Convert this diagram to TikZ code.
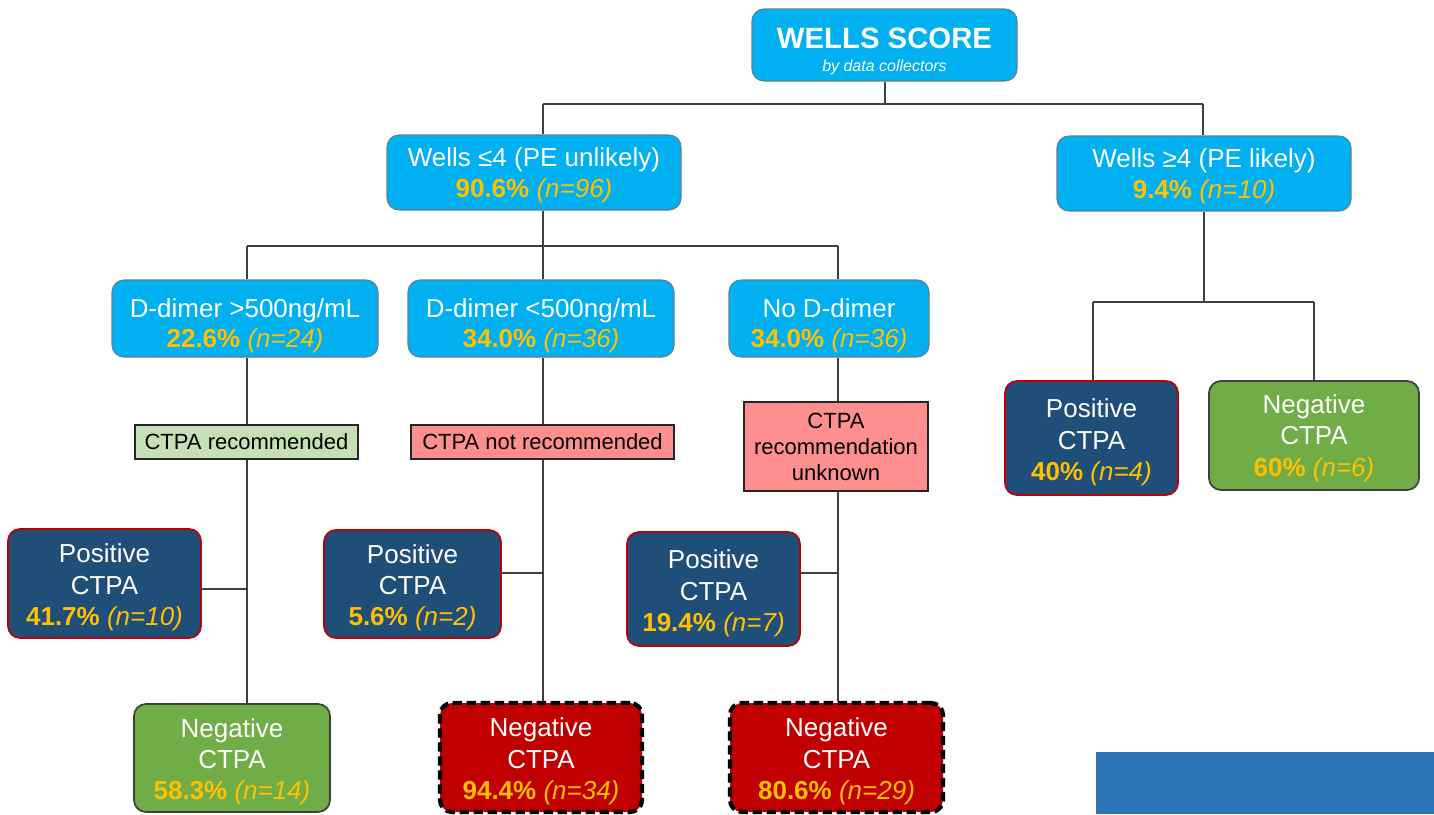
\documentclass[tikz,border=0pt]{standalone}
\usepackage{fontspec}
\setmainfont{Liberation Sans}
\definecolor{cyanA}{HTML}{00B0F0}
\definecolor{blueBorder}{HTML}{5A7F99}
\definecolor{gold}{HTML}{FFC000}
\definecolor{navy}{HTML}{1F4E79}
\definecolor{redB}{HTML}{C00000}
\definecolor{greenA}{HTML}{70AD47}
\definecolor{darkB}{HTML}{404040}
\definecolor{redA}{HTML}{C00000}
\definecolor{tagGreen}{HTML}{C5E0B4}
\definecolor{tagRed}{HTML}{FF8F8F}
\definecolor{lineC}{HTML}{3F3F3F}
\definecolor{blueRect}{HTML}{2E75B6}
\newcommand\pctline[2]{{\color{gold}\textbf{#1} \textit{#2}}}
\newcommand\tstrut[1]{\rule{0pt}{#1}}
\begin{document}
\begin{tikzpicture}[x=0.75pt,y=-0.75pt,
  base/.style={rounded corners=9pt, align=center, inner sep=2pt, text=white,
    font=\fontsize{19.5}{23.5}\selectfont},
  bluebox/.style={base, fill=cyanA, draw=blueBorder, line width=0.8pt},
  posbox/.style={base, fill=navy, draw=redB, line width=1.3pt, font=\fontsize{19.5}{23.5}\selectfont},
  neggreen/.style={base, fill=greenA, draw=darkB, line width=1.3pt, font=\fontsize{19.5}{23.5}\selectfont},
  negred/.style={base, fill=redA, draw=black, line width=3.2pt, dash pattern=on 7pt off 3.5pt, font=\fontsize{19.5}{23.5}\selectfont},
  tagbox/.style={draw=black!85, line width=0.9pt, align=center, text=black, inner sep=1pt,
    font=\fontsize{16.5}{19.5}\selectfont},
  conn/.style={draw=lineC, line width=1.5pt}]
\useasboundingbox (0,0) rectangle (1434,814);

% nodes
\node[bluebox, minimum width=198.75pt, minimum height=54pt] (ws) at (884.5,45)
  {{\fontsize{22}{21}\selectfont\bfseries\tstrut{25.5pt}WELLS SCORE}\\[-6.25pt]{\fontsize{12}{12}\selectfont\itshape by data collectors}};
\node[bluebox, minimum width=220.5pt, minimum height=56.25pt] (wu) at (534,172.5)
  {\tstrut{18.7pt}Wells ≤4 (PE unlikely)\\\pctline{90.6\%}{(n=96)}};
\node[bluebox, minimum width=220.5pt, minimum height=56.25pt] (wl) at (1204,173.5)
  {\tstrut{18.7pt}Wells ≥4 (PE likely)\\\pctline{9.4\%}{(n=10)}};
\node[bluebox, minimum width=199.5pt, minimum height=57.75pt, font=\fontsize{19.5}{22.5}\selectfont] (d1) at (245,318.5)
  {\tstrut{25pt}D-dimer >500ng/mL\\\pctline{22.6\%}{(n=24)}};
\node[bluebox, minimum width=199.5pt, minimum height=57.75pt, font=\fontsize{19.5}{22.5}\selectfont] (d2) at (541,318.5)
  {\tstrut{25pt}D-dimer <500ng/mL\\\pctline{34.0\%}{(n=36)}};
\node[bluebox, minimum width=150pt, minimum height=57.75pt, font=\fontsize{19.5}{22.5}\selectfont] (d3) at (829,318.5)
  {\tstrut{25pt}No D-dimer\\\pctline{34.0\%}{(n=36)}};
\node[tagbox, fill=tagGreen, minimum width=167.25pt, minimum height=25.5pt] (r1) at (246.5,442)
  {CTPA recommended};
\node[tagbox, fill=tagRed, minimum width=197.25pt, minimum height=25.5pt] (r2) at (542.5,442)
  {CTPA not recommended};
\node[tagbox, fill=tagRed, minimum width=138pt, minimum height=66.75pt] (r3) at (836,446.5)
  {CTPA\\recommendation\\unknown};
\node[posbox, minimum width=144.75pt, minimum height=81.75pt] (p1) at (104.5,583.5)
  {\tstrut{20pt}Positive\\CTPA\\\pctline{41.7\%}{(n=10)}};
\node[posbox, minimum width=132.75pt, minimum height=81pt] (p2) at (412.5,584)
  {\tstrut{20pt}Positive\\CTPA\\\pctline{5.6\%}{(n=2)}};
\node[posbox, minimum width=129.75pt, minimum height=85.5pt] (p3) at (713.5,589)
  {\tstrut{21pt}Positive\\CTPA\\\pctline{19.4\%}{(n=7)}};
\node[neggreen, minimum width=147pt, minimum height=81pt] (n1) at (232,758)
  {\tstrut{20pt}Negative\\CTPA\\\pctline{58.3\%}{(n=14)}};
\node[negred, minimum width=151.5pt, minimum height=81.75pt] (n2) at (541,757.5)
  {\tstrut{20pt}Negative\\CTPA\\\pctline{94.4\%}{(n=34)}};
\node[negred, minimum width=159.75pt, minimum height=81.75pt] (n3) at (836.5,757.5)
  {\tstrut{20pt}Negative\\CTPA\\\pctline{80.6\%}{(n=29)}};
\node[posbox, minimum width=129.75pt, minimum height=85.5pt] (q1) at (1091.5,438)
  {\tstrut{21pt}Positive\\CTPA\\\pctline{40\%}{(n=4)}};
\node[neggreen, minimum width=157.5pt, minimum height=81.75pt] (q2) at (1314,435.5)
  {\tstrut{18pt}Negative\\CTPA\\\pctline{60\%}{(n=6)}};

% bottom-right blue block
\fill[blueRect] (1096,752) rectangle (1434,814);

% junction coordinates
\coordinate (t1) at (543,104);
\coordinate (t2) at (1203,104);
\coordinate (u1) at (247,246);
\coordinate (u3) at (838,246);
\coordinate (v1) at (1093,302);
\coordinate (v2) at (1314,302);

% connectors: top level
\draw[conn] (ws.south) -- (ws.south |- t1);
\draw[conn] (t1) -- (t2);
\draw[conn] (t1) -- (t1 |- wu.north);
\draw[conn] (t2) -- (t2 |- wl.north);
% second level
\draw[conn] (t1 |- wu.south) -- (t1 |- u1);
\draw[conn] (u1) -- (u3);
\draw[conn] (u1) -- (u1 |- d1.north);
\draw[conn] (t1 |- u1) -- (t1 |- d2.north);
\draw[conn] (u3) -- (u3 |- d3.north);
% right branch
\draw[conn] (wl.south) -- (wl.south |- v1);
\draw[conn] (v1) -- (v2);
\draw[conn] (v1) -- (v1 |- q1.north);
\draw[conn] (v2) -- (v2 |- q2.north);
% trunks
\draw[conn] (u1 |- d1.south) -- (u1 |- r1.north);
\draw[conn] (u1 |- r1.south) -- (u1 |- n1.north);
\draw[conn] ([yshift=-4pt]p1.east) -- ([yshift=-4pt]p1.east -| u1);
\draw[conn] (t1 |- d2.south) -- (t1 |- r2.north);
\draw[conn] (t1 |- r2.south) -- (t1 |- n2.north);
\draw[conn] ([yshift=8.25pt]p2.east) -- ([yshift=8.25pt]p2.east -| t1);
\draw[conn] (u3 |- d3.south) -- (u3 |- r3.north);
\draw[conn] (u3 |- r3.south) -- (u3 |- n3.north);
\draw[conn] ([yshift=12pt]p3.east) -- ([yshift=12pt]p3.east -| u3);
\end{tikzpicture}
\end{document}
